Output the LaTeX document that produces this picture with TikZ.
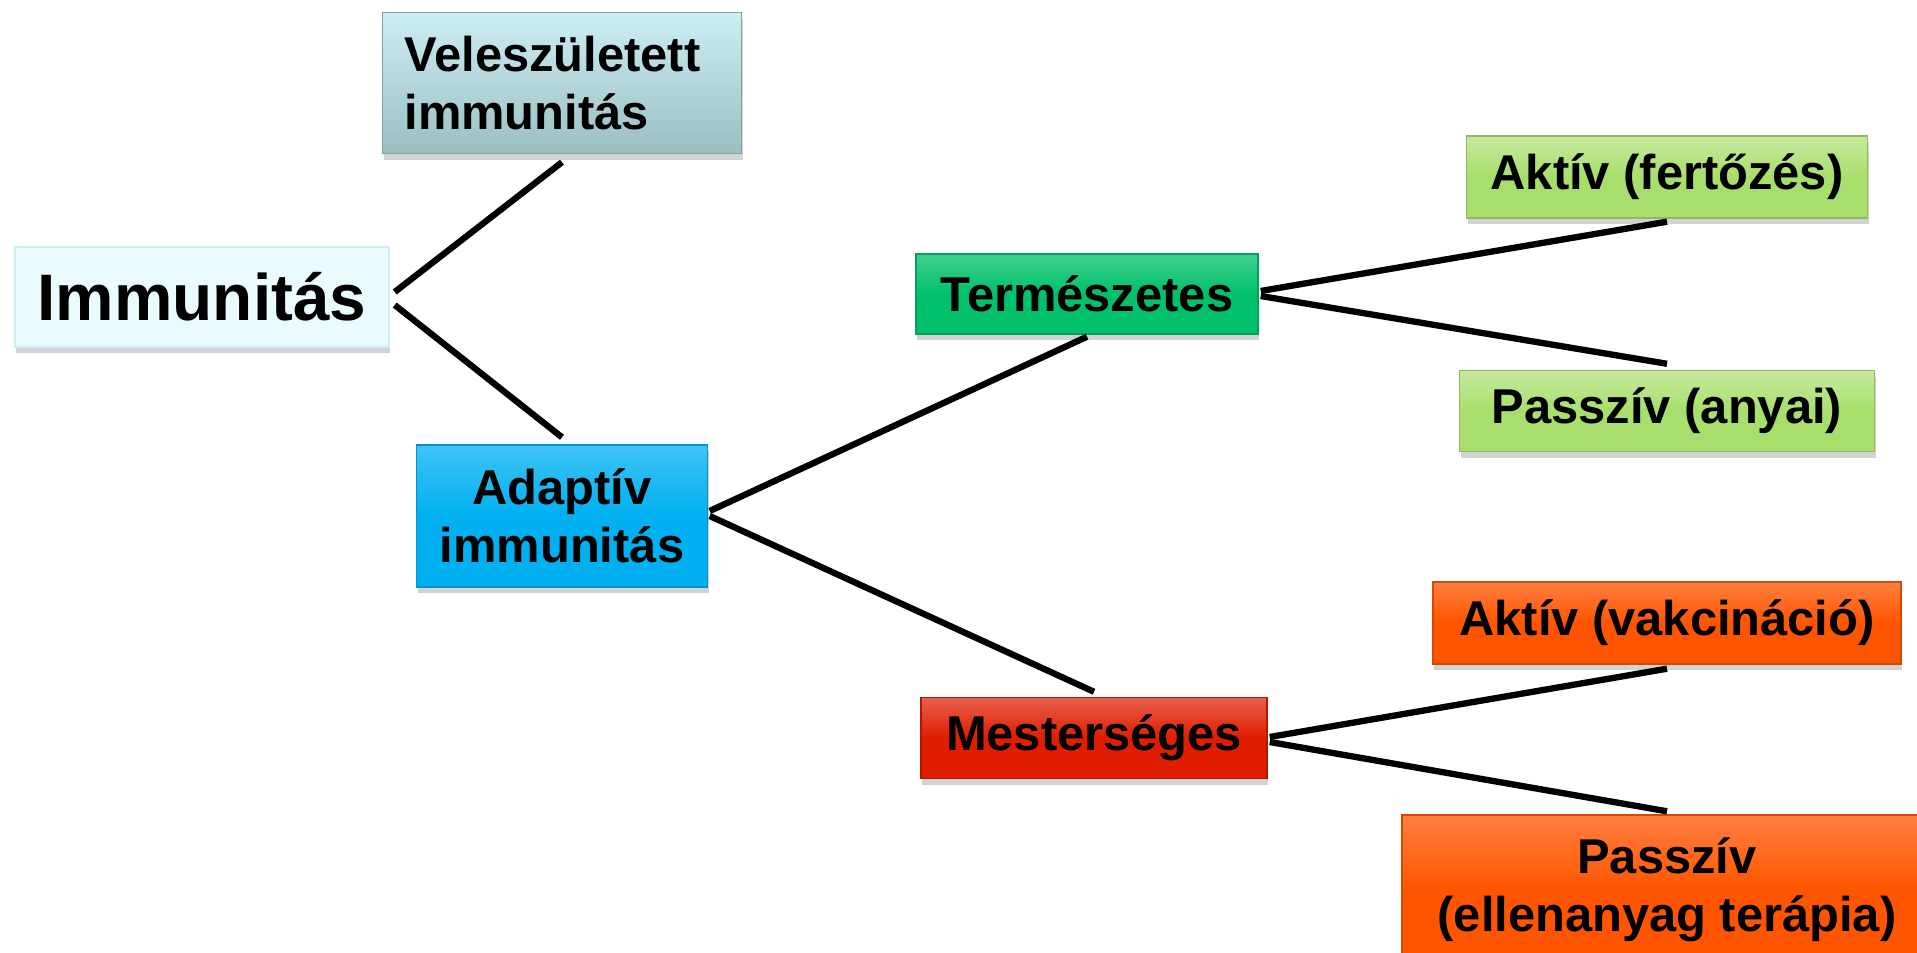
\documentclass[tikz,border=0pt]{standalone}
\usepackage{fontspec}
\setmainfont{Liberation Sans}
\usetikzlibrary{positioning,shadows,calc}
\usepackage{xcolor}
\definecolor{mcyan}{HTML}{EAFBFD}
\definecolor{mteal}{HTML}{9BBEC2}
\definecolor{mteallt}{HTML}{CDEFF3}
\definecolor{mblue}{HTML}{00B0F0}
\definecolor{mgreen}{HTML}{00C06B}
\definecolor{mlime}{HTML}{A8DE6C}
\definecolor{mred}{HTML}{E01D00}
\definecolor{morange}{HTML}{FF5500}
\tikzstyle{l2}=[line width=1.8pt]
\tikzstyle{box}=[rectangle, inner sep=0pt, line width=0.4pt, font=\bfseries\fontsize{13.9}{16.6}\selectfont, drop shadow={shadow xshift=0.3pt, shadow yshift=-1.8pt, opacity=0.35}]
\tikzstyle{root}=[box, fill=mcyan, draw=mteallt, font=\bfseries\fontsize{18.7}{22}\selectfont]
\tikzstyle{innate}=[box, top color=mteallt, bottom color=mteal, draw=mteal!85!black, align=left, text width=3.15cm]
\tikzstyle{adapt}=[box, top color=mblue!75!white, bottom color=mblue, middle color=mblue, draw=mblue!85!black, align=center]
\tikzstyle{nat}=[box, top color=mgreen!75!white, bottom color=mgreen, middle color=mgreen, draw=mgreen!85!black]
\tikzstyle{natsub}=[box, top color=mlime!65!white, bottom color=mlime, middle color=mlime, draw=mlime!85!black]
\tikzstyle{art}=[box, top color=mred!70!white, bottom color=mred, middle color=mred, draw=mred!80!black]
\tikzstyle{artsub}=[box, top color=morange!75!white, bottom color=morange, middle color=morange, draw=morange!85!black, align=center]

\begin{document}
\begin{tikzpicture}[x=1cm, y=1cm, on grid]

    \useasboundingbox (0,0) rectangle (19.17,-9.53);

    % left part
    \node[root, minimum width=3.74cm, minimum height=1.0cm] (imm) at (2.02,-2.97) {Immunitás};
    \node[innate, minimum width=3.59cm, minimum height=1.41cm] (vel) at (5.62,-0.83) {Veleszületett\\immunitás};
    \node[adapt, minimum width=2.91cm, minimum height=1.42cm] (adapt) [below=4.33cm of vel] {Adaptív\\immunitás};

    % middle column
    \node[nat, minimum width=3.42cm, minimum height=0.8cm] (term) at (10.87,-2.94) {Természetes};
    \node[art, minimum width=3.46cm, minimum height=0.81cm] (mest) at (10.94,-7.38) {Mesterséges};

    % right column
    \node[natsub, minimum width=4.01cm, minimum height=0.82cm] (aktf) at (16.67,-1.77) {Aktív (fertőzés)};
    \node[natsub, minimum width=4.15cm, minimum height=0.81cm] (passa) [below=2.34cm of aktf] {Passzív (anyai)};
    \node[artsub, minimum width=4.68cm, minimum height=0.82cm] (aktv) at (16.67,-6.23) {Aktív (vakcináció)};
    \node[artsub, minimum width=5.30cm, minimum height=1.5cm] (passe) [below=2.67cm of aktv] {Passzív\\(ellenanyag terápia)};

    \draw[l2] ([shift={(0.05,0.05)}]imm.east) -- ([yshift=-0.08cm]vel.south);
    \draw[l2] ([shift={(0.05,-0.08)}]imm.east) -- ([yshift=0.07cm]adapt.north);
    \draw[l2] ([shift={(0.015,0.05)}]adapt.east) -- ([yshift=-0.02cm]term.south);
    \draw[l2] ([shift={(0.015,0)}]adapt.east) -- ([yshift=0.05cm]mest.north);
    \draw[l2] ([shift={(0.02,0.03)}]term.east) -- ([yshift=-0.03cm]aktf.south);
    \draw[l2] ([shift={(0.02,-0.02)}]term.east) -- ([yshift=0.06cm]passa.north);
    \draw[l2] ([shift={(0.02,0.01)}]mest.east) -- ([yshift=-0.04cm]aktv.south);
    \draw[l2] ([shift={(0.02,-0.04)}]mest.east) -- ([yshift=0.03cm]passe.north);

\end{tikzpicture}
\end{document}
